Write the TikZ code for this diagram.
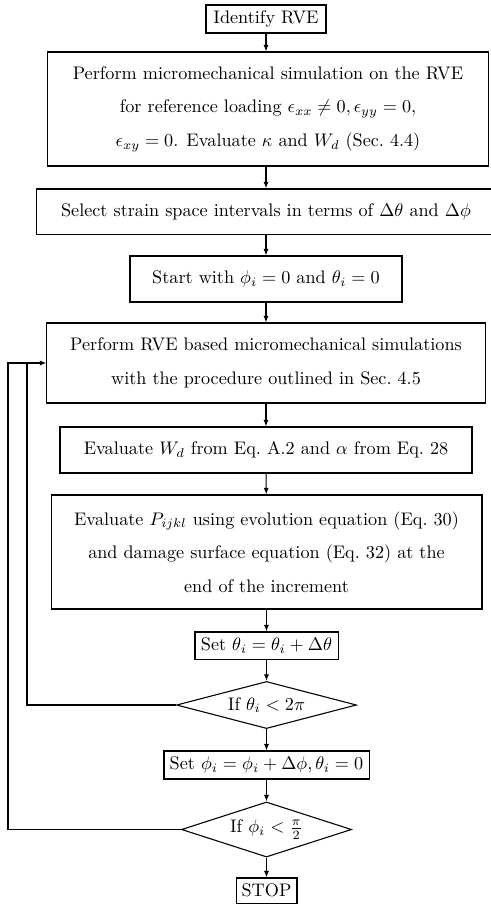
\documentclass[tikz,border=0pt]{standalone}
\usepackage{amsmath,amssymb}
\usepackage{tikz}
\usetikzlibrary{arrows.meta,positioning,shapes.geometric,calc}

\begin{document}
\begin{tikzpicture}[x=0.55pt,y=-0.55pt,
    box/.style={draw,line width=0.6pt,align=center,inner sep=0pt,
        font={\fontsize{10}{18.5}\selectfont}},
    test/.style={draw,diamond,line width=0.6pt,inner sep=0pt,align=center},
    flow/.style={line width=0.6pt,-{Latex[length=3.6pt,width=2.8pt]}}]
    \useasboundingbox (0,0) rectangle (491,907);
    % Boxes
    \node[box,minimum width=66pt,minimum height=15.4pt] (rve) at (266,19) {Identify RVE};
    \node[box,minimum width=243pt,minimum height=62.7pt] (micro) at (268,109)
        {Perform micromechanical simulation on the RVE\\
         for reference loading $\epsilon_{xx}\neq0,\epsilon_{yy}=0$,\\
         $\epsilon_{xy}=0$. Evaluate $\kappa$ and $W_d$ (Sec.~4.4)};
    \node[box,minimum width=252pt,minimum height=24.8pt] (select) at (266,211.5)
        {Select strain space intervals in terms of $\Delta\theta$ and $\Delta\phi$};
    \node[box,minimum width=149.6pt,minimum height=25.3pt] (start) at (266,279)
        {Start with $\phi_i=0$ and $\theta_i=0$};
    \node[box,minimum width=241pt,minimum height=44pt] (sim) at (266,363)
        {Perform RVE based micromechanical simulations\\
         with the procedure outlined in Sec.~4.5};
    \node[box,minimum width=226.6pt,minimum height=25.3pt] (evalw) at (266,450)
        {Evaluate $W_d$ from Eq.~A.2 and $\alpha$ from Eq.~28};
    \node[box,minimum width=237pt,minimum height=62.7pt] (evalp) at (266.5,552)
        {Evaluate $P_{ijkl}$ using evolution equation (Eq.~30)\\
         and damage surface equation (Eq.~32) at the\\
         end of the increment};
    \node[box,minimum width=78.7pt,minimum height=14.9pt] (settheta) at (266.5,645.5)
        {Set $\theta_i=\theta_i+\Delta\theta$};
    \node[test,aspect=3.8,minimum width=99pt,minimum height=25.9pt] (iftheta) at (266.5,705)
        {If $\theta_i<2\pi$};
    \node[box,minimum width=112.8pt,minimum height=15.4pt] (setphi) at (266.5,765)
        {Set $\phi_i=\phi_i+\Delta\phi,\theta_i=0$};
    \node[test,aspect=3.1,minimum width=93.5pt,minimum height=30.3pt] (ifphi) at (266.5,829.5)
        {If $\phi_i<\frac{\pi}{2}$};
    \node[box,minimum width=33.5pt,minimum height=13.8pt] (stop) at (266.5,890.5) {STOP};
    % Loop corners
    \coordinate (loopin) at (27,363);
    \coordinate (loopout) at (8,363);
    % Connections
    \draw[flow] (rve) -- (rve |- micro.north);
    \draw[flow] (rve |- micro.south) -- (select);
    \draw[flow] (select) -- (start);
    \draw[flow] (start) -- (sim);
    \draw[flow] (sim) -- (evalw);
    \draw[flow] (evalw) -- (evalp);
    \draw[flow] (evalp) -- (settheta);
    \draw[flow] (settheta) -- (iftheta);
    \draw[flow] (iftheta) -- (setphi);
    \draw[flow] (setphi) -- (ifphi);
    \draw[flow] (ifphi) -- (stop);
    \draw[line width=0.6pt] (iftheta.west) -| (loopin);
    \draw[flow] (ifphi.west) -| (loopout) -- (sim.west);
\end{tikzpicture}
\end{document}
